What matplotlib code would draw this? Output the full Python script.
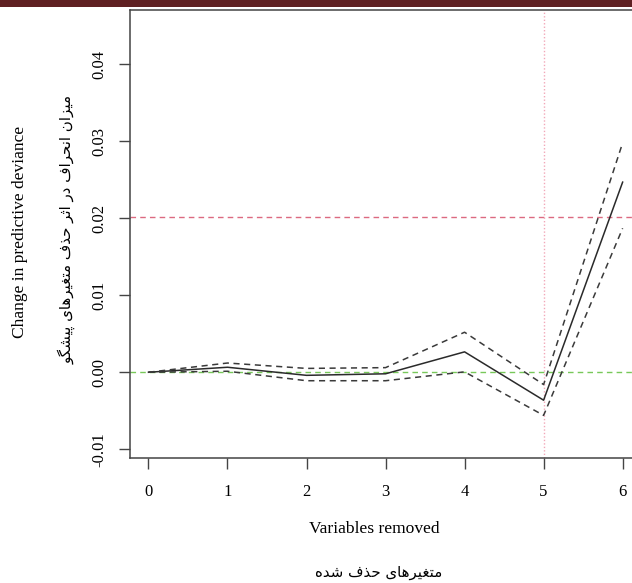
import matplotlib
matplotlib.use("Agg")
import matplotlib.pyplot as plt
from matplotlib.patches import Rectangle

# ---- data ----
x_vals = [0, 1, 2, 3, 4, 5, 6]
mean_change = [0.0, 0.00065, -0.0004, -0.0002, 0.00265, -0.00363, 0.0247]
upper_ci = [0.0, 0.0012, 0.0005, 0.0006, 0.0052, -0.0016, 0.0298]
lower_ci = [0.0, 0.00013, -0.0011, -0.0011, 0.00005, -0.0056, 0.0187]
ref_zero = 0.0
ref_threshold = 0.0202
ref_vline = 5
x_ticks = [0, 1, 2, 3, 4, 5, 6]
y_ticks = [-0.01, 0.00, 0.01, 0.02, 0.03, 0.04]
y_tick_labels = ["-0.01", "0.00", "0.01", "0.02", "0.03", "0.04"]
xlabel_en = "Variables removed"
ylabel_en = "Change in predictive deviance"
xlabel_fa = "متغیرهای حذف شده"
ylabel_fa = "میزان انحراف در اثر حذف متغیرهای پیشگو"

# ---- minimal Persian shaping (matplotlib has no complex text layout) ----
FORMS = {
    '\u0627': ('\uFE8D', '\uFE8E', None, None),
    '\u067E': ('\uFB56', '\uFB57', '\uFB58', '\uFB59'),
    '\u062A': ('\uFE95', '\uFE96', '\uFE97', '\uFE98'),
    '\u062B': ('\uFE99', '\uFE9A', '\uFE9B', '\uFE9C'),
    '\u062D': ('\uFEA1', '\uFEA2', '\uFEA3', '\uFEA4'),
    '\u062F': ('\uFEA9', '\uFEAA', None, None),
    '\u0630': ('\uFEAB', '\uFEAC', None, None),
    '\u0631': ('\uFEAD', '\uFEAE', None, None),
    '\u0632': ('\uFEAF', '\uFEB0', None, None),
    '\u0634': ('\uFEB5', '\uFEB6', '\uFEB7', '\uFEB8'),
    '\u063A': ('\uFECD', '\uFECE', '\uFECF', '\uFED0'),
    '\u0641': ('\uFED1', '\uFED2', '\uFED3', '\uFED4'),
    '\u06AF': ('\uFB92', '\uFB93', '\uFB94', '\uFB95'),
    '\u0645': ('\uFEE1', '\uFEE2', '\uFEE3', '\uFEE4'),
    '\u0646': ('\uFEE5', '\uFEE6', '\uFEE7', '\uFEE8'),
    '\u0647': ('\uFEE9', '\uFEEA', '\uFEEB', '\uFEEC'),
    '\u0648': ('\uFEED', '\uFEEE', None, None),
    '\u06CC': ('\uFBFC', '\uFBFD', '\uFBFE', '\uFBFF'),
}


def dual(c):
    return c in FORMS and FORMS[c][2] is not None


def shape(s):
    out = []
    for i, c in enumerate(s):
        if c not in FORMS:
            out.append(c)
            continue
        prev = s[i - 1] if i > 0 else ''
        nxt = s[i + 1] if i + 1 < len(s) else ''
        jp = dual(prev)
        jn = dual(c) and nxt in FORMS
        iso, fin, ini, med = FORMS[c]
        if jp and jn:
            out.append(med)
        elif jp:
            out.append(fin)
        elif jn:
            out.append(ini)
        else:
            out.append(iso)
    return ''.join(reversed(out))


serif = ["Liberation Serif", "DejaVu Serif"]
fa_font = ["DejaVu Sans"]

W, H = 632, 583
fig = plt.figure(figsize=(W / 100, H / 100), dpi=100)

# top dark band
fig.patches.append(Rectangle((0, 1 - 7.3 / H), 1, 7.3 / H, transform=fig.transFigure,
                             facecolor="#5f2022", edgecolor="none", zorder=0))

left, right, bottom_px, top_px = 129.9, 641.6, 457.7, 9.7
ax = fig.add_axes([left / W, (H - bottom_px) / H, (right - left) / W, (bottom_px - top_px) / H])
ax.set_xlim(-0.235, 6.24)
ax.set_ylim(-0.0111, 0.0471)

dash = (0, (4, 3))
ax.plot(x_vals, mean_change, color="#2a2a2a", lw=1.1, zorder=3)
ax.plot(x_vals, upper_ci, color="#3a3a3a", lw=1.1, ls=dash, zorder=3)
ax.plot(x_vals, lower_ci, color="#3a3a3a", lw=1.1, ls=dash, zorder=3)
ax.axhline(ref_zero, color="#78c85a", lw=1.0, ls=(0, (4, 3)), zorder=2)
ax.axhline(ref_threshold, color="#dc6a80", lw=1.0, ls=(0, (4, 3)), zorder=2)
ax.axvline(ref_vline, color="#f2a8b8", lw=1.0, ls=(0, (1, 1.5)), zorder=2)

for sp in ax.spines.values():
    sp.set_color("#444444")
    sp.set_linewidth(1.1)

ax.set_xticks(x_ticks)
ax.set_xticklabels([str(v) for v in x_ticks], fontfamily=serif, fontsize=12)
ax.set_yticks(y_ticks)
ax.set_yticklabels(y_tick_labels, fontfamily=serif, fontsize=12, rotation=90, va="center")
ax.tick_params(axis="both", direction="out", length=8, width=1.0, color="#444444")
ax.tick_params(axis="x", pad=11)
ax.tick_params(axis="y", pad=8)

fig.text(374 / W, 1 - 529 / H, xlabel_en, ha="center", va="center", fontfamily=serif, fontsize=12.6)
fig.text(379 / W, 1 - 573 / H, shape(xlabel_fa), ha="center", va="center", fontfamily=fa_font, fontsize=10.8)
fig.text(20 / W, 1 - 232 / H, ylabel_en, ha="center", va="center", rotation=90, fontfamily=serif, fontsize=12.6)
fig.text(67 / W, 1 - 230 / H, shape(ylabel_fa), ha="center", va="center", rotation=90, fontfamily=fa_font, fontsize=10.8)

fig.savefig("out.png", dpi=100)
